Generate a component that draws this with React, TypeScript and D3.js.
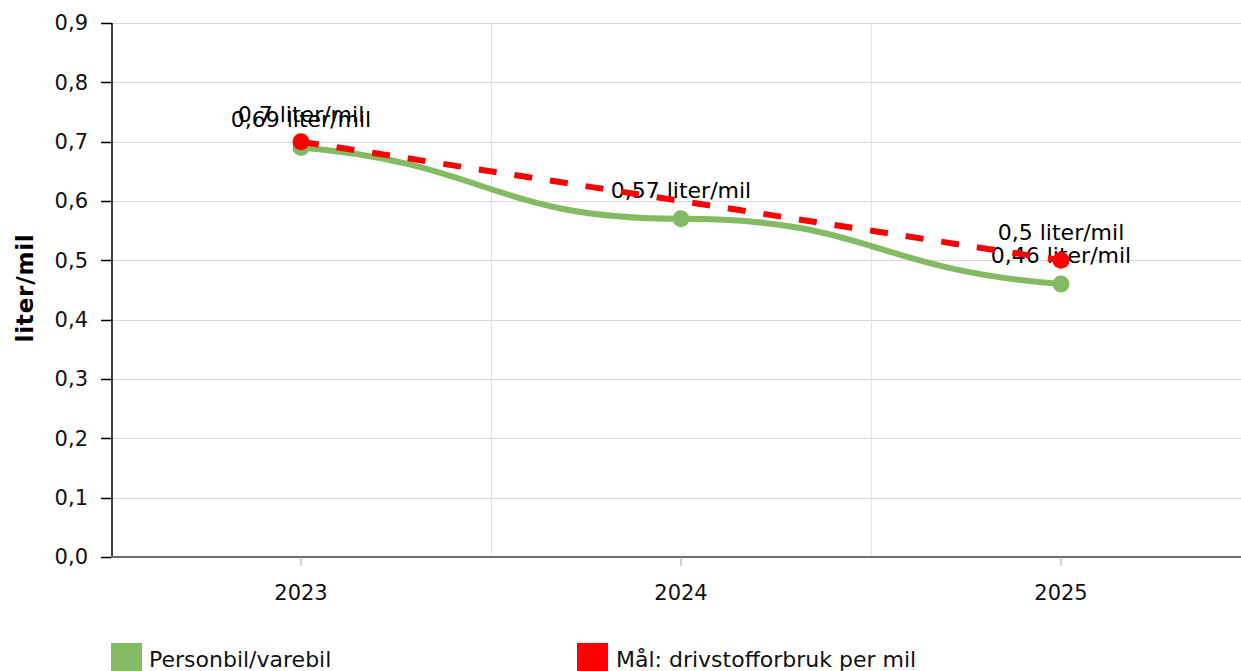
import React from "react";
import * as d3 from "d3";

const categories = ["2023", "2024", "2025"];
const personbil = [0.69, 0.57, 0.46];
const maal: (number | null)[] = [0.7, null, 0.5];
const yTicks = [0, 0.1, 0.2, 0.3, 0.4, 0.5, 0.6, 0.7, 0.8, 0.9];
const seriesNames = ["Personbil/varebil", "Mål: drivstofforbruk per mil"];
const unit = "liter/mil";

const W = 1241;
const H = 671;
const FONT = "'DejaVu Sans', Verdana, sans-serif";
const GREEN = "#84BB62";
const RED = "#FF0000";

const fmt = (v: number) => String(v).replace(".", ",");

// smooth curve: horizontal-ish handles at each point (half the segment long),
// with a small slope at the two ends
function smoothPath(pts: [number, number][]) {
  const p = d3.path();
  const n = pts.length;
  const slope = (i: number) => {
    if (i === 0) return 0.45 * (pts[1][1] - pts[0][1]) / (pts[1][0] - pts[0][0]);
    if (i === n - 1) return 0.45 * (pts[n - 1][1] - pts[n - 2][1]) / (pts[n - 1][0] - pts[n - 2][0]);
    return 0;
  };
  p.moveTo(pts[0][0], pts[0][1]);
  for (let i = 0; i < n - 1; i++) {
    const [x0, y0] = pts[i];
    const [x1, y1] = pts[i + 1];
    const h = (x1 - x0) / 2;
    p.bezierCurveTo(x0 + h, y0 + slope(i) * h, x1 - h, y1 - slope(i + 1) * h, x1, y1);
  }
  return p.toString();
}

export default function App() {
  const left = 111;
  const top = 23;
  const bottom = 557;
  const x = d3.scaleBand<string>().domain(categories).range([left, left + 380 * 3]).padding(0);
  const cx = (c: string) => (x(c) as number) + x.bandwidth() / 2;
  const y = d3.scaleLinear().domain([0, 0.9]).range([bottom, top]);

  const gPts: [number, number][] = personbil.map((v, i) => [cx(categories[i]), y(v)]);
  const rData = maal
    .map((v, i) => ({ v, c: categories[i] }))
    .filter((d) => d.v !== null) as { v: number; c: string }[];
  const redLine = d3
    .line<{ v: number; c: string }>()
    .x((d) => cx(d.c))
    .y((d) => y(d.v))(rData) as string;

  const bounds = [0, 1, 2, 3].map((i) => left + x.bandwidth() * i);

  return (
    <div style={{ position: "absolute", left: 0, top: 0 }}>
      <svg width={W} height={H} style={{ display: "block", fontFamily: FONT }}>
        <rect x={0} y={0} width={W} height={H} fill="#fff" />
        {yTicks.map((t) => (
          <line key={"h" + t} x1={left} x2={W} y1={Math.round(y(t)) + 0.5} y2={Math.round(y(t)) + 0.5} stroke="#d9d9d9" strokeWidth={1} />
        ))}
        {bounds.slice(1).map((b, i) => (
          <line key={"v" + i} x1={b + 0.5} x2={b + 0.5} y1={top} y2={bottom} stroke="#e3e3e3" strokeWidth={1} />
        ))}
        <line x1={left + 1} x2={left + 1} y1={top} y2={bottom} stroke="#000" strokeWidth={1.5} />
        {yTicks.map((t) => (
          <g key={"yt" + t}>
            <line x1={left - 10} x2={left + 1} y1={Math.round(y(t)) + 0.5} y2={Math.round(y(t)) + 0.5} stroke="#000" strokeWidth={1.5} />
            <text x={88} y={y(t)} dy="0.35em" textAnchor="end" fontSize={21} fill="#111">
              {d3.format(".1f")(t).replace(".", ",")}
            </text>
          </g>
        ))}
        <text
          transform={`translate(33,288) rotate(-90)`}
          textAnchor="middle"
          fontSize={23}
          fontWeight="bold"
          letterSpacing={0.8}
          fill="#000"
        >
          {unit}
        </text>
        <line x1={left} x2={W} y1={bottom} y2={bottom} stroke="#6e6e6e" strokeWidth={2} />
        {categories.map((c) => (
          <g key={"xt" + c}>
            <line x1={cx(c)} x2={cx(c)} y1={bottom} y2={bottom + 9} stroke="#a0a0a0" strokeWidth={1} />
            <text x={cx(c)} y={600} textAnchor="middle" fontSize={21} fill="#111">
              {c}
            </text>
          </g>
        ))}
        {/* green series */}
        <path d={smoothPath(gPts)} fill="none" stroke={GREEN} strokeWidth={6} strokeLinejoin="round" strokeLinecap="round" />
        {gPts.map((p, i) => (
          <circle key={"gc" + i} cx={p[0]} cy={p[1]} r={8.5} fill={GREEN} />
        ))}
        {gPts.map((p, i) => (
          <text key={"gl" + i} x={p[0]} y={p[1] - 21} textAnchor="middle" fontSize={22} fill="#000">
            {fmt(personbil[i])} {unit}
          </text>
        ))}
        {/* red series */}
        <path d={redLine} fill="none" stroke={RED} strokeWidth={6} strokeDasharray="18,18" />
        {rData.map((d, i) => (
          <circle key={"rc" + i} cx={cx(d.c)} cy={y(d.v)} r={8.5} fill={RED} />
        ))}
        {rData.map((d, i) => (
          <text key={"rl" + i} x={cx(d.c)} y={y(d.v) - 20} textAnchor="middle" fontSize={22} fill="#000">
            {fmt(d.v)} {unit}
          </text>
        ))}
        {/* legend */}
        <rect x={111} y={643} width={31} height={31} fill={GREEN} />
        <text x={149} y={667} fontSize={22} fill="#111">
          {seriesNames[0]}
        </text>
        <rect x={577} y={643} width={31} height={31} fill={RED} />
        <text x={616} y={667} fontSize={22} fill="#111">
          {seriesNames[1]}
        </text>
      </svg>
    </div>
  );
}
